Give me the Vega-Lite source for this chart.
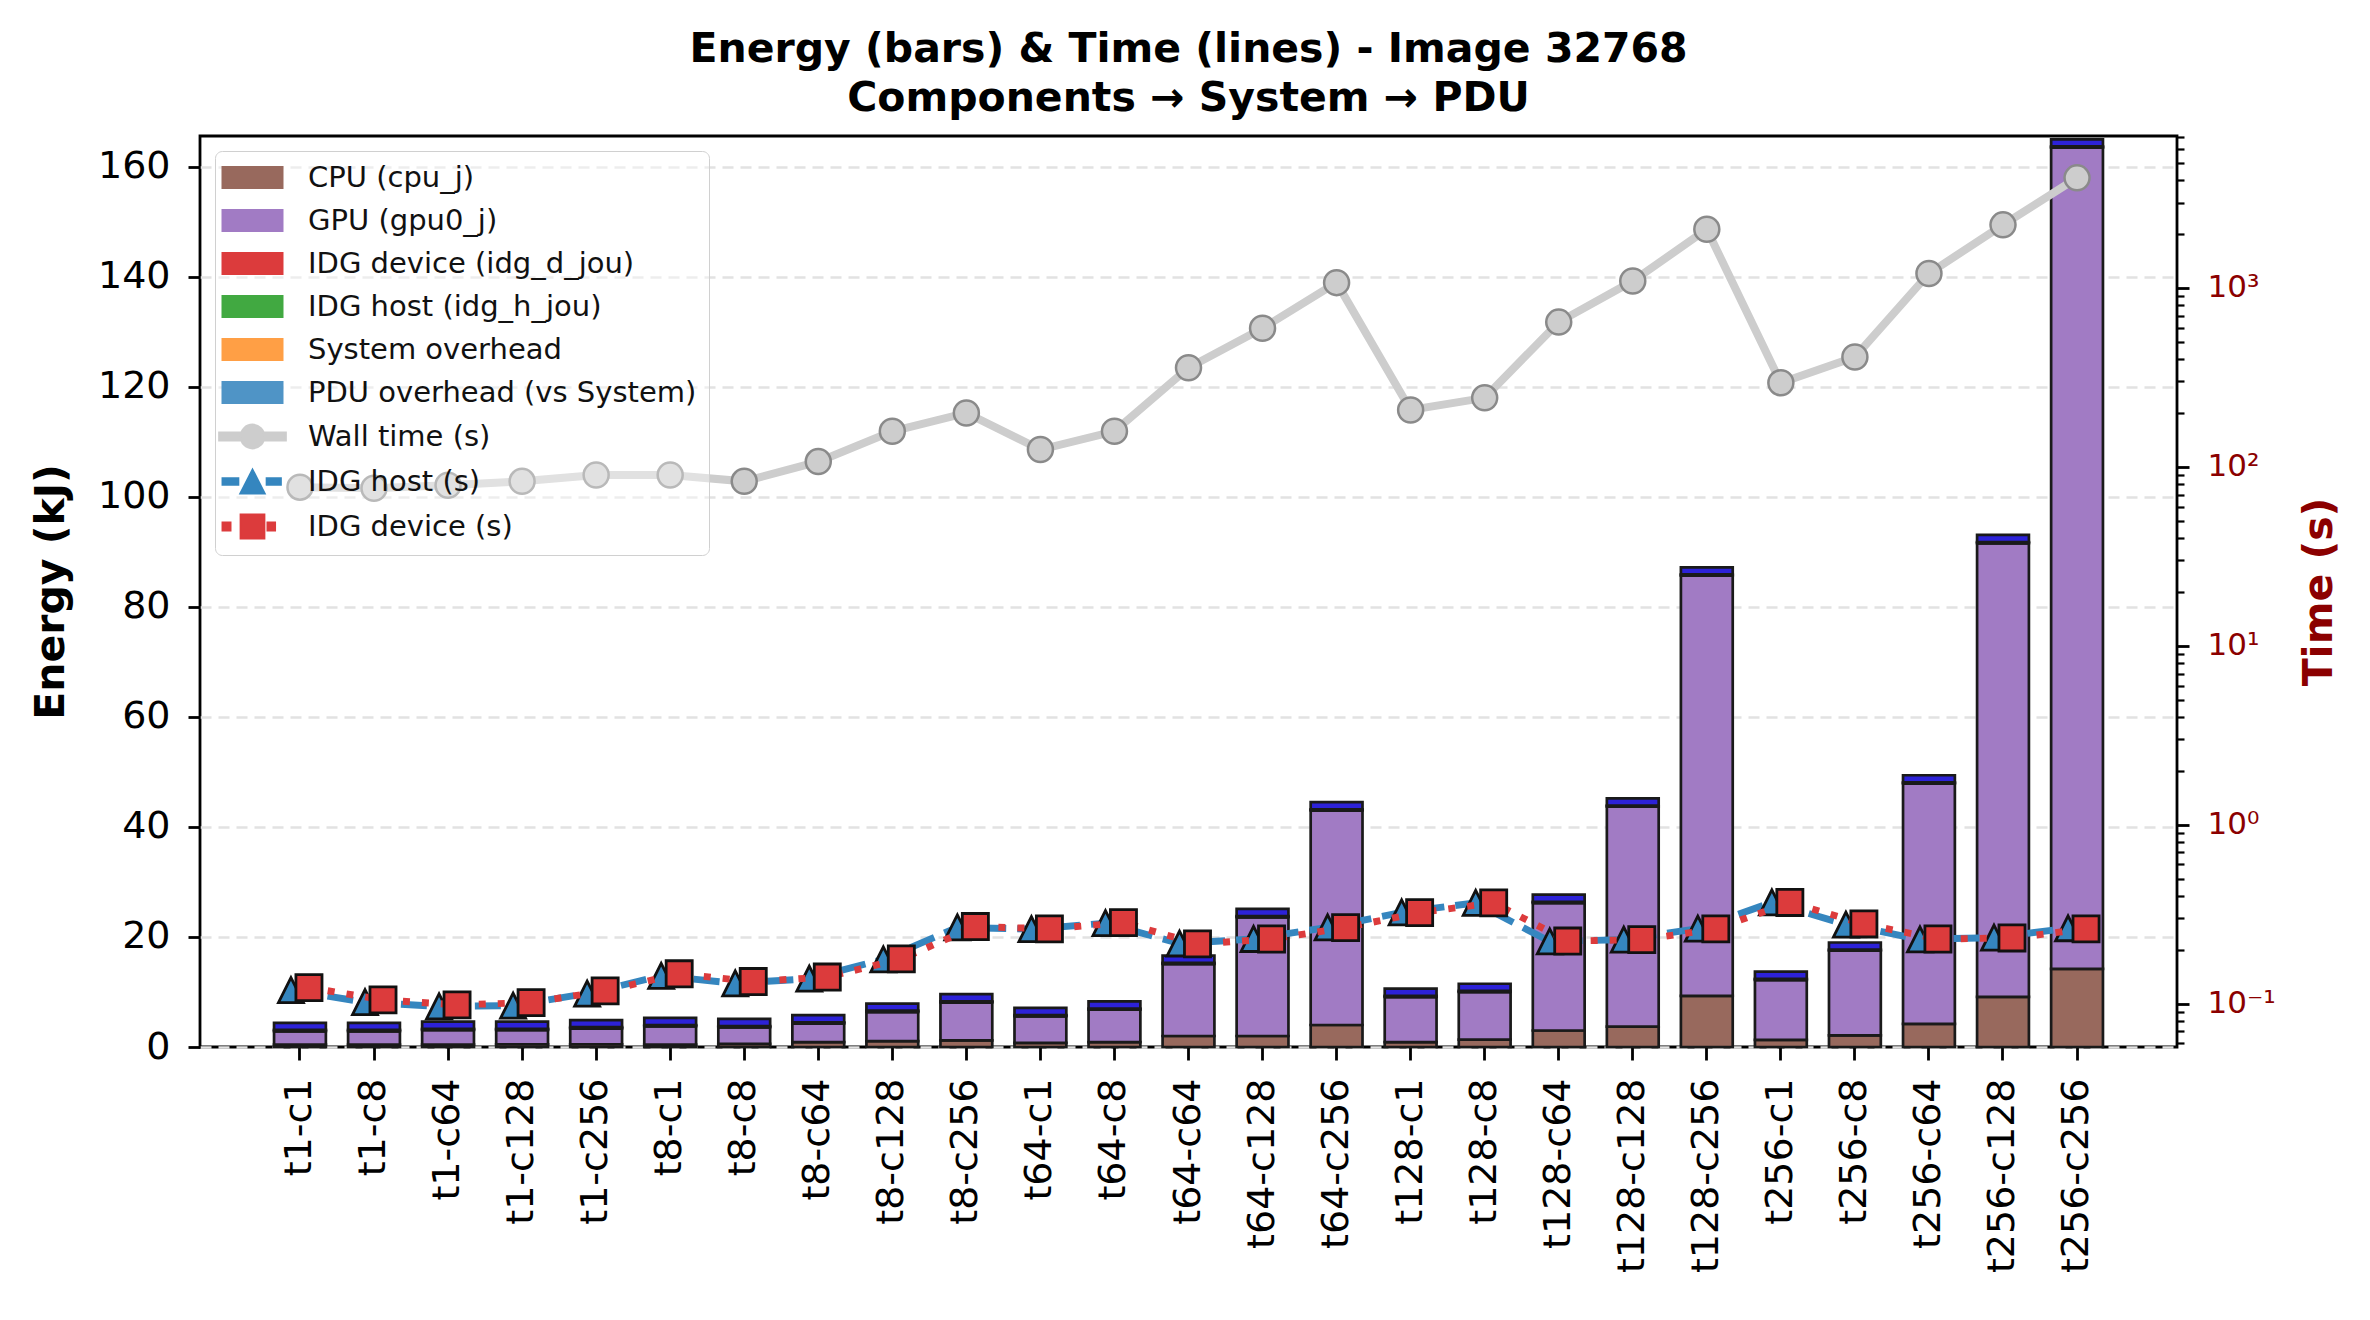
{
  "$schema": "https://vega.github.io/schema/vega-lite/v6.json",
  "width": 1977,
  "height": 911,
  "autosize": {"type": "none"},
  "padding": {"left": 200, "top": 136, "right": 193, "bottom": 273},
  "background": "white",
  "title": {
    "text": ["Energy (bars) & Time (lines) - Image 32768", "Components → System → PDU"],
    "font": "DejaVu Sans",
    "fontSize": 41,
    "fontWeight": "bold",
    "color": "black",
    "lineHeight": 49,
    "offset": 16,
    "anchor": "middle",
    "frame": "group"
  },
  "config": {
    "font": "DejaVu Sans",
    "view": {"stroke": "black", "strokeWidth": 2.8},
    "axis": {
      "labelFont": "DejaVu Sans",
      "titleFont": "DejaVu Sans",
      "labelColor": "black",
      "tickColor": "black",
      "domain": false,
      "tickWidth": 2.8,
      "grid": false,
      "labelFlush": false,
      "labelOverlap": false
    }
  },
  "datasets": {
    "runs": [
      {"cfg": "t1-c1", "cpu_j": 0.45, "gpu0_j": 2.45, "idg_d_jou": 0, "idg_h_jou": 0, "node_overhead_j": 0.2, "pdu_overhead_j": 1.3, "wall_s": 77, "idg_host_s": 0.119, "idg_dev_s": 0.123},
      {"cfg": "t1-c8", "cpu_j": 0.45, "gpu0_j": 2.45, "idg_d_jou": 0, "idg_h_jou": 0, "node_overhead_j": 0.2, "pdu_overhead_j": 1.3, "wall_s": 76, "idg_host_s": 0.102, "idg_dev_s": 0.105},
      {"cfg": "t1-c64", "cpu_j": 0.45, "gpu0_j": 2.65, "idg_d_jou": 0, "idg_h_jou": 0, "node_overhead_j": 0.2, "pdu_overhead_j": 1.3, "wall_s": 79, "idg_host_s": 0.0966, "idg_dev_s": 0.0986},
      {"cfg": "t1-c128", "cpu_j": 0.5, "gpu0_j": 2.6, "idg_d_jou": 0, "idg_h_jou": 0, "node_overhead_j": 0.2, "pdu_overhead_j": 1.3, "wall_s": 83, "idg_host_s": 0.0976, "idg_dev_s": 0.1015},
      {"cfg": "t1-c256", "cpu_j": 0.5, "gpu0_j": 2.9, "idg_d_jou": 0, "idg_h_jou": 0, "node_overhead_j": 0.2, "pdu_overhead_j": 1.3, "wall_s": 90, "idg_host_s": 0.114, "idg_dev_s": 0.118},
      {"cfg": "t8-c1", "cpu_j": 0.45, "gpu0_j": 3.35, "idg_d_jou": 0, "idg_h_jou": 0, "node_overhead_j": 0.2, "pdu_overhead_j": 1.3, "wall_s": 90, "idg_host_s": 0.143, "idg_dev_s": 0.147},
      {"cfg": "t8-c8", "cpu_j": 0.55, "gpu0_j": 3.05, "idg_d_jou": 0, "idg_h_jou": 0, "node_overhead_j": 0.2, "pdu_overhead_j": 1.3, "wall_s": 83, "idg_host_s": 0.13, "idg_dev_s": 0.133},
      {"cfg": "t8-c64", "cpu_j": 0.9, "gpu0_j": 3.4, "idg_d_jou": 0, "idg_h_jou": 0, "node_overhead_j": 0.2, "pdu_overhead_j": 1.3, "wall_s": 107, "idg_host_s": 0.138, "idg_dev_s": 0.141},
      {"cfg": "t8-c128", "cpu_j": 1.05, "gpu0_j": 5.35, "idg_d_jou": 0, "idg_h_jou": 0, "node_overhead_j": 0.2, "pdu_overhead_j": 1.3, "wall_s": 158, "idg_host_s": 0.177, "idg_dev_s": 0.178},
      {"cfg": "t8-c256", "cpu_j": 1.2, "gpu0_j": 6.9, "idg_d_jou": 0, "idg_h_jou": 0, "node_overhead_j": 0.2, "pdu_overhead_j": 1.3, "wall_s": 200, "idg_host_s": 0.267, "idg_dev_s": 0.27},
      {"cfg": "t64-c1", "cpu_j": 0.75, "gpu0_j": 4.85, "idg_d_jou": 0, "idg_h_jou": 0, "node_overhead_j": 0.2, "pdu_overhead_j": 1.3, "wall_s": 125, "idg_host_s": 0.261, "idg_dev_s": 0.262},
      {"cfg": "t64-c8", "cpu_j": 0.9, "gpu0_j": 5.9, "idg_d_jou": 0, "idg_h_jou": 0, "node_overhead_j": 0.2, "pdu_overhead_j": 1.3, "wall_s": 158, "idg_host_s": 0.282, "idg_dev_s": 0.284},
      {"cfg": "t64-c64", "cpu_j": 2.0, "gpu0_j": 13.1, "idg_d_jou": 0, "idg_h_jou": 0, "node_overhead_j": 0.2, "pdu_overhead_j": 1.3, "wall_s": 358, "idg_host_s": 0.217, "idg_dev_s": 0.216},
      {"cfg": "t64-c128", "cpu_j": 2.0, "gpu0_j": 21.6, "idg_d_jou": 0, "idg_h_jou": 0, "node_overhead_j": 0.2, "pdu_overhead_j": 1.3, "wall_s": 595, "idg_host_s": 0.23, "idg_dev_s": 0.23},
      {"cfg": "t64-c256", "cpu_j": 4.0, "gpu0_j": 39.0, "idg_d_jou": 0, "idg_h_jou": 0, "node_overhead_j": 0.2, "pdu_overhead_j": 1.3, "wall_s": 1070, "idg_host_s": 0.267, "idg_dev_s": 0.266},
      {"cfg": "t128-c1", "cpu_j": 0.9, "gpu0_j": 8.2, "idg_d_jou": 0, "idg_h_jou": 0, "node_overhead_j": 0.2, "pdu_overhead_j": 1.3, "wall_s": 208, "idg_host_s": 0.324, "idg_dev_s": 0.323},
      {"cfg": "t128-c8", "cpu_j": 1.35, "gpu0_j": 8.65, "idg_d_jou": 0, "idg_h_jou": 0, "node_overhead_j": 0.2, "pdu_overhead_j": 1.3, "wall_s": 243, "idg_host_s": 0.366, "idg_dev_s": 0.366},
      {"cfg": "t128-c64", "cpu_j": 3.0, "gpu0_j": 23.2, "idg_d_jou": 0, "idg_h_jou": 0, "node_overhead_j": 0.2, "pdu_overhead_j": 1.3, "wall_s": 644, "idg_host_s": 0.223, "idg_dev_s": 0.224},
      {"cfg": "t128-c128", "cpu_j": 3.7, "gpu0_j": 40.0, "idg_d_jou": 0, "idg_h_jou": 0, "node_overhead_j": 0.2, "pdu_overhead_j": 1.3, "wall_s": 1092, "idg_host_s": 0.228, "idg_dev_s": 0.228},
      {"cfg": "t128-c256", "cpu_j": 9.3, "gpu0_j": 76.4, "idg_d_jou": 0, "idg_h_jou": 0, "node_overhead_j": 0.2, "pdu_overhead_j": 1.3, "wall_s": 2125, "idg_host_s": 0.263, "idg_dev_s": 0.262},
      {"cfg": "t256-c1", "cpu_j": 1.3, "gpu0_j": 10.9, "idg_d_jou": 0, "idg_h_jou": 0, "node_overhead_j": 0.2, "pdu_overhead_j": 1.3, "wall_s": 295, "idg_host_s": 0.368, "idg_dev_s": 0.368},
      {"cfg": "t256-c8", "cpu_j": 2.1, "gpu0_j": 15.4, "idg_d_jou": 0, "idg_h_jou": 0, "node_overhead_j": 0.2, "pdu_overhead_j": 1.3, "wall_s": 411, "idg_host_s": 0.277, "idg_dev_s": 0.279},
      {"cfg": "t256-c64", "cpu_j": 4.2, "gpu0_j": 43.7, "idg_d_jou": 0, "idg_h_jou": 0, "node_overhead_j": 0.2, "pdu_overhead_j": 1.3, "wall_s": 1204, "idg_host_s": 0.229, "idg_dev_s": 0.23},
      {"cfg": "t256-c128", "cpu_j": 9.1, "gpu0_j": 82.5, "idg_d_jou": 0, "idg_h_jou": 0, "node_overhead_j": 0.2, "pdu_overhead_j": 1.3, "wall_s": 2250, "idg_host_s": 0.234, "idg_dev_s": 0.233},
      {"cfg": "t256-c256", "cpu_j": 14.2, "gpu0_j": 149.3, "idg_d_jou": 0, "idg_h_jou": 0, "node_overhead_j": 0.2, "pdu_overhead_j": 1.3, "wall_s": 4120, "idg_host_s": 0.264, "idg_dev_s": 0.262}
    ]
  },
  "data": {"name": "runs"},
  "encoding": {
    "x": {
      "field": "cfg",
      "type": "nominal",
      "scale": {
        "domain": ["t1-c1", "t1-c8", "t1-c64", "t1-c128", "t1-c256", "t8-c1", "t8-c8", "t8-c64", "t8-c128", "t8-c256", "t64-c1", "t64-c8", "t64-c64", "t64-c128", "t64-c256", "t128-c1", "t128-c8", "t128-c64", "t128-c128", "t128-c256", "t256-c1", "t256-c8", "t256-c64", "t256-c128", "t256-c256"],
        "paddingInner": 0.3,
        "paddingOuter": 1.235
      },
      "axis": {"title": null, "labelAngle": 270, "labelFontSize": 38, "tickSize": 13, "labelPadding": 18, "labelLimit": 400}
    }
  },
  "layer": [
    {
      "transform": [
        {"fold": ["cpu_j", "gpu0_j", "idg_d_jou", "idg_h_jou", "node_overhead_j", "pdu_overhead_j"], "as": ["component", "energy"]}
      ],
      "mark": {"type": "bar", "stroke": "#1a1a1a", "strokeWidth": 2.7},
      "encoding": {
        "y": {
          "field": "energy",
          "type": "quantitative",
          "stack": "zero",
          "scale": {"domain": [0, 165.6], "nice": false},
          "axis": {
            "orient": "left",
            "title": "Energy (kJ)",
            "values": [0, 20, 40, 60, 80, 100, 120, 140, 160],
            "labelFontSize": 38,
            "titleFontSize": 41,
            "titleFontWeight": "bold",
            "titleColor": "black",
            "titlePadding": 25,
            "tickSize": 12,
            "labelPadding": 18,
            "grid": true,
            "gridDash": [11, 7],
            "gridColor": "#e2e2e2",
            "gridWidth": 2.6
          }
        },
        "fill": {
          "condition": {"test": "datum.component === 'pdu_overhead_j'", "value": "#2d22d8"},
          "field": "component",
          "type": "nominal",
          "scale": {
            "domain": ["cpu_j", "gpu0_j", "idg_d_jou", "idg_h_jou", "node_overhead_j", "pdu_overhead_j"],
            "range": ["#98695d", "#a17bc4", "#dc3b3c", "#41a941", "#ff9f45", "#4f94c6"]
          },
          "legend": null
        },
        "order": {"field": "component", "type": "nominal", "sort": "ascending"}
      }
    },
    {
      "layer": [
        {
          "mark": {"type": "line", "strokeWidth": 8},
          "encoding": {
            "y": {
              "field": "wall_s",
              "type": "quantitative",
              "scale": {"type": "log", "domain": [0.0573, 7060], "nice": false},
              "axis": {
                "orient": "right",
                "title": "Time (s)",
                "values": [0.1, 1, 10, 100, 1000],
                "labelExpr": "datum.value < 0.5 ? '10⁻¹' : datum.value < 5 ? '10⁰' : datum.value < 50 ? '10¹' : datum.value < 500 ? '10²' : '10³'",
                "labelFontSize": 31,
                "labelColor": "#8b0000",
                "titleColor": "#8b0000",
                "titleFontSize": 41,
                "titleFontWeight": "bold",
                "titleAngle": 270,
                "titleBaseline": "top",
                "titlePadding": 24,
                "tickSize": 12,
                "labelPadding": 18
              }
            },
            "color": {
              "datum": "Wall time (s)",
              "type": "nominal",
              "scale": {
                "domain": ["CPU (cpu_j)", "GPU (gpu0_j)", "IDG device (idg_d_jou)", "IDG host (idg_h_jou)", "System overhead", "PDU overhead (vs System)", "Wall time (s)", "IDG host (s)", "IDG device (s)"],
                "range": ["#98695d", "#a17bc4", "#dc3b3c", "#41a941", "#ff9f45", "#4f94c6", "#cdcdcd", "#3586bf", "#dc3b3c"]
              },
              "legend": {
                "title": null,
                "orient": "top-left",
                "offset": 15,
                "labelFont": "DejaVu Sans",
                "labelFontSize": 29,
                "labelColor": "#111111",
                "labelLimit": 600,
                "symbolSize": 729,
                "symbolType": {"expr": "datum.value === 'Wall time (s)' ? 'M-2.47,-0.3H-0.9V0.3H-2.47Z M0.9,-0.3H2.47V0.3H0.9Z M0.88,0A0.88,0.88,0,1,1,-0.88,0A0.88,0.88,0,1,1,0.88,0Z' : datum.value === 'IDG host (s)' ? 'M-2.22,-0.245H-1.05V0.245H-2.22Z M1.05,-0.245H2.1V0.245H1.05Z M0,-0.88L0.9,0.88H-0.9Z' : datum.value === 'IDG device (s)' ? 'M-2.22,-0.3H-1.63V0.3H-2.22Z M1.11,-0.3H1.67V0.3H1.11Z M-0.88,-0.88H0.88V0.88H-0.88Z' : 'M-2.222,-0.778H2.222V0.778H-2.222Z'"},
                "symbolStrokeColor": "#222222",
                "symbolStrokeWidth": 2,
                "symbolOpacity": 1,
                "symbolOffset": 11,
                "labelOffset": 41,
                "padding": 12,
                "rowPadding": 12,
                "strokeColor": "#d0d0d0",
                "fillColor": "rgba(255,255,255,0.4)",
                "cornerRadius": 7
              }
            }
          }
        },
        {
          "mark": {"type": "point", "shape": "circle", "filled": true, "size": 625, "stroke": "#8a8a8a", "strokeWidth": 2.5, "opacity": 1},
          "encoding": {
            "y": {"field": "wall_s", "type": "quantitative", "scale": {"type": "log", "domain": [0.0573, 7060], "nice": false}, "axis": null},
            "color": {"datum": "Wall time (s)", "type": "nominal"}
          }
        },
        {
          "mark": {"type": "line", "strokeWidth": 6.9, "strokeDash": [26, 11], "xOffset": -9},
          "encoding": {
            "y": {
              "field": "idg_host_s",
              "type": "quantitative",
              "scale": {"type": "log", "domain": [0.0573, 7060], "nice": false},
              "axis": {
                "orient": "right",
                "title": null,
                "labels": false,
                "values": [0.06, 0.07, 0.08, 0.09, 0.2, 0.3, 0.4, 0.5, 0.6, 0.7, 0.8, 0.9, 2, 3, 4, 5, 6, 7, 8, 9, 20, 30, 40, 50, 60, 70, 80, 90, 200, 300, 400, 500, 600, 700, 800, 900, 2000, 3000, 4000, 5000, 6000, 7000],
                "tickSize": 7,
                "tickWidth": 2.2
              }
            },
            "color": {"datum": "IDG host (s)", "type": "nominal"}
          }
        },
        {
          "mark": {"type": "point", "shape": "M0,-1L1,1H-1Z", "filled": true, "size": 625, "stroke": "#111111", "strokeWidth": 2.8, "xOffset": -9, "opacity": 1},
          "encoding": {
            "y": {"field": "idg_host_s", "type": "quantitative", "scale": {"type": "log", "domain": [0.0573, 7060], "nice": false}, "axis": null},
            "color": {"datum": "IDG host (s)", "type": "nominal"}
          }
        },
        {
          "mark": {"type": "line", "strokeWidth": 6.9, "strokeDash": [7, 12], "xOffset": 9},
          "encoding": {
            "y": {"field": "idg_dev_s", "type": "quantitative", "scale": {"type": "log", "domain": [0.0573, 7060], "nice": false}, "axis": null},
            "color": {"datum": "IDG device (s)", "type": "nominal"}
          }
        },
        {
          "mark": {"type": "point", "shape": "square", "filled": true, "size": 680, "stroke": "#111111", "strokeWidth": 2.8, "xOffset": 9, "opacity": 1},
          "encoding": {
            "y": {"field": "idg_dev_s", "type": "quantitative", "scale": {"type": "log", "domain": [0.0573, 7060], "nice": false}, "axis": null},
            "color": {"datum": "IDG device (s)", "type": "nominal"}
          }
        }
      ],
      "resolve": {"axis": {"y": "independent"}}
    }
  ],
  "resolve": {"scale": {"y": "independent"}}
}
